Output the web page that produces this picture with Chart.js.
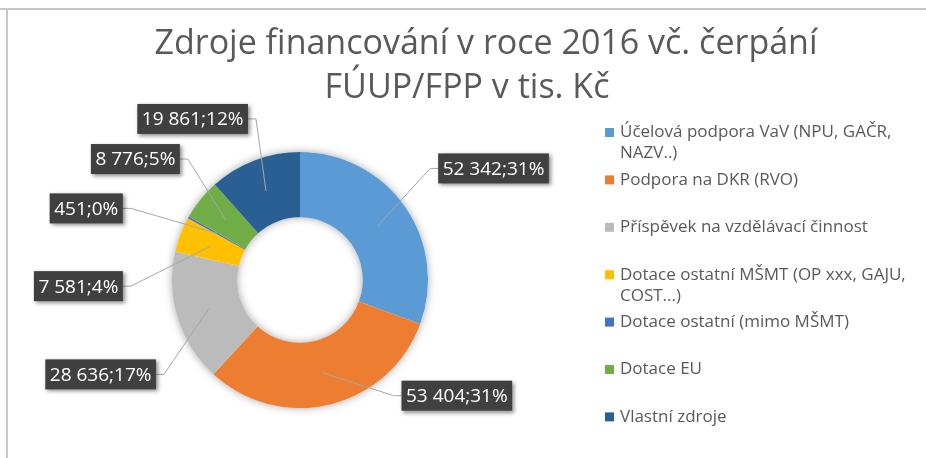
<!DOCTYPE html>
<html>
<head>
<meta charset="utf-8">
<script src="https://cdn.jsdelivr.net/npm/chart.js@4"></script>
<style>
body { margin: 0; background: #fff; }
</style>
</head>
<body>
<canvas id="chart" width="926" height="458"></canvas>
<script>
var labels = [
    'Účelová podpora VaV (NPU, GAČR, NAZV..)',
    'Podpora na DKR (RVO)',
    'Příspěvek na vzdělávací činnost',
    'Dotace ostatní MŠMT (OP xxx, GAJU, COST...)',
    'Dotace ostatní (mimo MŠMT)',
    'Dotace EU',
    'Vlastní zdroje'
];
var values = [52342, 53404, 28636, 7581, 451, 8776, 19861];
var colors = ['#5B9BD5', '#ED7D31', '#BBBBBB', '#FFC000', '#4472C4', '#70AD47', '#2A5F93'];
var titleLines = ['Zdroje financování v roce 2016 vč. čerpání', 'FÚUP/FPP v tis. Kč'];

// where the leader line bends, relative to the middle of its slice
var labelOffsets = [[52, -57], [71, 23], [-45, 66], [-80, 40], [-86, -25], [-38, -61], [-10, -72]];

var total = values.reduce(function (a, b) { return a + b; }, 0);

var fmt = function (n) {
    return String(n).replace(/\B(?=(\d{3})+(?!\d))/g, ' ');
};

// frame + soft shadow under the ring
var ringShadow = {
    id: 'ringShadow',
    beforeDraw: function (chart) {
        const ctx = chart.ctx;
        ctx.save();
        ctx.fillStyle = '#c8c8c8';
        ctx.fillRect(0, 8, chart.width, 2);
        ctx.fillRect(6, 8, 2, chart.height - 8);
        ctx.restore();
    },
    beforeDatasetsDraw: function (chart) {
        const arc = chart.getDatasetMeta(0).data[0];
        const ctx = chart.ctx;
        ctx.save();
        ctx.shadowColor = 'rgba(0,0,0,0.35)';
        ctx.shadowBlur = 9;
        ctx.fillStyle = '#fff';
        ctx.beginPath();
        ctx.arc(arc.x, arc.y, arc.outerRadius, 0, Math.PI * 2);
        ctx.arc(arc.x, arc.y, arc.innerRadius, 0, Math.PI * 2, true);
        ctx.fill();
        ctx.restore();
    }
};

var decor = {
    id: 'decor',
    afterDatasetsDraw: function (chart) {
        const ctx = chart.ctx;
        const meta = chart.getDatasetMeta(0);
        ctx.save();
        ctx.font = '19px "Open Sans"';
        ctx.textBaseline = 'middle';
        meta.data.forEach(function (arc, i) {
            const p = arc.getCenterPoint();
            const ex = p.x + labelOffsets[i][0];
            const ey = p.y + labelOffsets[i][1];
            const right = labelOffsets[i][0] > 0;
            const text = fmt(values[i]) + ';' + Math.round(values[i] / total * 100) + '%';
            const w = ctx.measureText(text).width + 9;
            const h = 30;
            const bx = right ? ex + 8 : ex - 8 - w;
            const by = ey - h / 2;
            // leader line
            ctx.strokeStyle = '#a6a6a6';
            ctx.lineWidth = 1;
            ctx.beginPath();
            ctx.moveTo(p.x, p.y);
            ctx.lineTo(ex, ey);
            ctx.lineTo(right ? bx : bx + w, ey);
            ctx.stroke();
            // box
            ctx.save();
            ctx.shadowColor = 'rgba(0,0,0,0.45)';
            ctx.shadowBlur = 4;
            ctx.shadowOffsetX = 2;
            ctx.shadowOffsetY = 2;
            ctx.fillStyle = '#404040';
            ctx.fillRect(bx, by, w, h);
            ctx.restore();
            ctx.fillStyle = '#fff';
            ctx.textAlign = 'center';
            ctx.fillText(text, bx + w / 2, ey + 1);
        });
        ctx.restore();
    },
    afterDraw: function (chart) {
        const ctx = chart.ctx;
        ctx.save();
        // title
        ctx.fillStyle = '#595959';
        ctx.font = '34px "Open Sans"';
        ctx.textAlign = 'center';
        ctx.textBaseline = 'alphabetic';
        ctx.fillText(titleLines[0], 486, 54);
        ctx.fillText(titleLines[1], 467, 98);
        // legend
        ctx.font = '17px "Open Sans"';
        ctx.textAlign = 'left';
        ctx.textBaseline = 'middle';
        chart.data.labels.forEach(function (lab, i) {
            const y = 132.5 + i * 47.4;
            ctx.fillStyle = colors[i];
            ctx.fillRect(605, y - 4.5, 9, 9);
            ctx.fillStyle = '#595959';
            const words = lab.split(' ');
            let line = '';
            let row = 0;
            words.forEach(function (wd) {
                const test = line ? line + ' ' + wd : wd;
                if (ctx.measureText(test).width > 300 && line) {
                    ctx.fillText(line, 620, y + row * 21);
                    row++;
                    line = wd;
                } else {
                    line = test;
                }
            });
            ctx.fillText(line, 620, y + row * 21);
        });
        ctx.restore();
    }
};

const ctx = document.getElementById('chart');
var myChart = new Chart(ctx, {
    type: 'doughnut',
    data: {
        labels: labels,
        datasets: [
            {
                data: values,
                backgroundColor: colors,
                borderWidth: 0,
            },
        ],
    },
    options: {
        responsive: false,
        animation: false,
        cutout: '49%',
        layout: {
            padding: { left: 172, right: 498, top: 152, bottom: 50 }
        },
        plugins: {
            legend: { display: false },
            title: { display: false },
            tooltip: { enabled: false },
        }
    },
    plugins: [ringShadow, decor]
});
</script>
</body>
</html>
